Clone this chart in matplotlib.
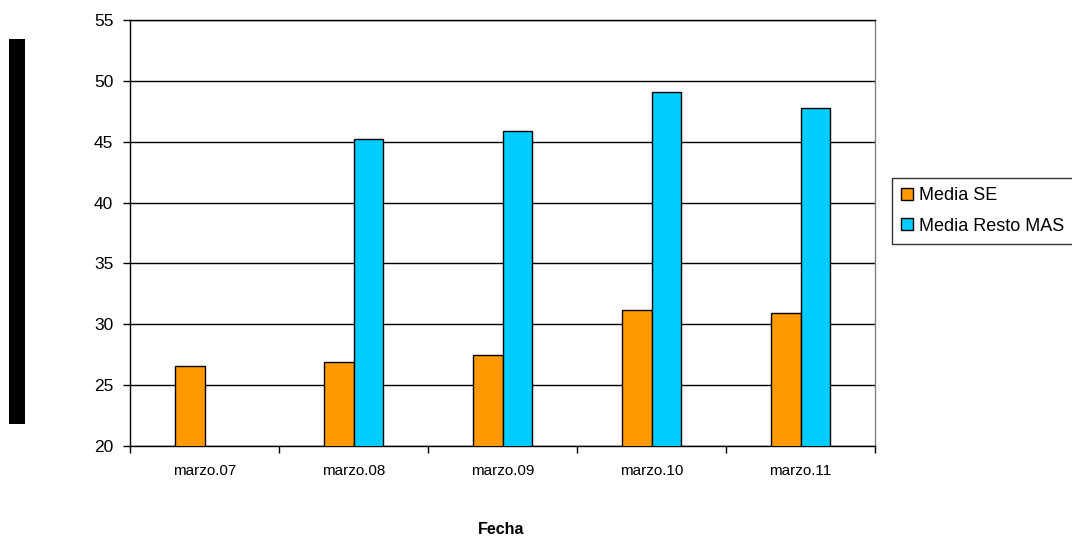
import numpy as np
import matplotlib
matplotlib.use("Agg")
import matplotlib.pyplot as plt
from matplotlib.patches import Rectangle

plt.rcParams['font.family'] = ['Liberation Sans', 'DejaVu Sans']

categories = ["marzo.07", "marzo.08", "marzo.09", "marzo.10", "marzo.11"]
media_se = [26.6, 26.9, 27.5, 31.2, 30.9]
media_resto = [np.nan, 45.2, 45.9, 49.1, 47.8]
series_names = ["Media SE", "Media Resto MAS"]
y_ticks = [20, 25, 30, 35, 40, 45, 50, 55]

W, H = 1072, 539
fig = plt.figure(figsize=(W / 100, H / 100), dpi=100)
ax = fig.add_axes([130 / W, 1 - 446 / H, (875 - 130) / W, (446 - 20) / H])

x = np.arange(len(categories))
bw = 0.2
ax.bar(x - bw / 2, media_se, width=bw, color="#FF9900", edgecolor="black", linewidth=1, label=series_names[0], zorder=3)
ax.bar(x + bw / 2, media_resto, width=bw, color="#00CCFF", edgecolor="black", linewidth=1, label=series_names[1], zorder=3)

ax.set_xlim(-0.5, len(categories) - 0.5)
ax.set_ylim(20, 55)
ax.set_yticks(y_ticks)
ax.set_yticklabels([str(t) for t in y_ticks], fontsize=12.5)
ax.yaxis.grid(True, color="black", linewidth=1, zorder=0)
ax.set_axisbelow(True)

ax.set_xticks(x)
ax.set_xticklabels(categories, fontsize=11)
ax.tick_params(axis="x", length=0, pad=13)
ax.set_xticks(np.arange(len(categories) + 1) - 0.5, minor=True)
ax.tick_params(axis="x", which="minor", length=5, width=1, color="black", direction="out")
ax.tick_params(axis="y", length=5, width=1, color="black", direction="out", pad=7)

for s in ["left", "bottom", "top"]:
    ax.spines[s].set_color("black")
    ax.spines[s].set_linewidth(1)
ax.spines["right"].set_color("#808080")
ax.spines["right"].set_linewidth(1)

fig.text(501 / W, 1 - 530 / H, "Fecha", ha="center", va="center", fontsize=11.5, fontweight="bold")

fig.patches.append(Rectangle((9 / W, 1 - 424 / H), 16 / W, 385 / H, transform=fig.transFigure,
                             facecolor="black", edgecolor="none"))

leg = fig.legend(loc="upper left", bbox_to_anchor=(892 / W, 1 - 178 / H), fontsize=13,
                 frameon=True, fancybox=False, edgecolor="black", handlelength=0.65, handleheight=0.65,
                 handletextpad=0.35, borderaxespad=0, borderpad=0.5, labelspacing=0.75)
leg.get_frame().set_linewidth(1)

fig.savefig("out.png", dpi=100)
